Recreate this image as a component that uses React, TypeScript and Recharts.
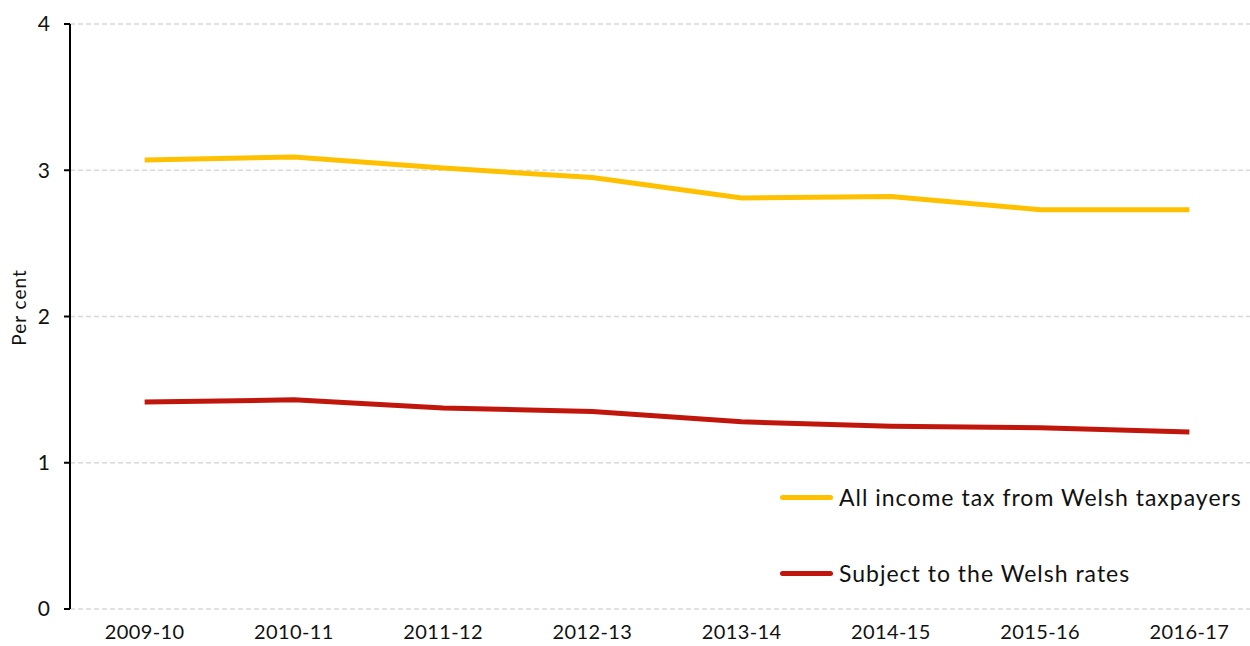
import { LineChart, Line, XAxis, YAxis, CartesianGrid, Legend } from "recharts"

const YEARS = ["2009-10", "2010-11", "2011-12", "2012-13", "2013-14", "2014-15", "2015-16", "2016-17"]
const ALL_INCOME_TAX = [3.07, 3.09, 3.015, 2.95, 2.81, 2.82, 2.73, 2.73]
const WELSH_RATES = [1.415, 1.43, 1.375, 1.35, 1.28, 1.25, 1.24, 1.21]
const Y_TICKS = [0, 1, 2, 3, 4]
const BOUNDARY_TICKS = [-0.5, 0.5, 1.5, 2.5, 3.5, 4.5, 5.5, 6.5, 7.5]
const CENTER_TICKS = [0, 1, 2, 3, 4, 5, 6, 7]

const SERIES = [
  { key: "all", name: "All income tax from Welsh taxpayers", color: "#FFC000" },
  { key: "welsh", name: "Subject to the Welsh rates", color: "#C0160C" },
]

const data = YEARS.map((year, i) => ({
  i,
  year,
  all: ALL_INCOME_TAX[i],
  welsh: WELSH_RATES[i],
}))

const FONT = "Lato, 'Open Sans', sans-serif"

function LegendBox() {
  return (
    <div style={{ fontFamily: FONT, fontSize: 23, letterSpacing: 1, color: "#111" }}>
      {SERIES.map((s) => (
        <div key={s.key} style={{ display: "flex", alignItems: "center", height: 30, marginBottom: 46 }}>
          <span
            style={{
              display: "inline-block",
              width: 53,
              height: 5,
              borderRadius: 3,
              background: s.color,
              marginRight: 6,
            }}
          />
          <span>{s.name}</span>
        </div>
      ))}
    </div>
  )
}

export default function App() {
  return (
    <div style={{ position: "absolute", left: 0, top: 0, width: 1250, height: 646, overflow: "hidden", background: "#fff" }}>
      <LineChart width={1264} height={646} data={data} margin={{ top: 24, right: 0, left: 0, bottom: 0 }}>
        <CartesianGrid vertical={false} stroke="#d9d9d9" strokeDasharray="5 3" strokeWidth={1.5} />
        <XAxis
          xAxisId="marks"
          type="number"
          dataKey="i"
          domain={[-0.5, 7.5]}
          ticks={BOUNDARY_TICKS}
          tick={false}
          tickSize={6}
          height={0}
          stroke="#000"
          strokeWidth={2}
        />
        <XAxis
          xAxisId="labels"
          type="number"
          dataKey="i"
          domain={[-0.5, 7.5]}
          ticks={CENTER_TICKS}
          tickFormatter={(v: number) => YEARS[v]}
          tickLine={false}
          axisLine={false}
          tickSize={0}
          tickMargin={16}
          height={37}
          interval={0}
          tick={{ fontSize: 20, fill: "#111", fontFamily: FONT, letterSpacing: 0.4 }}
        />
        <YAxis
          domain={[0, 4]}
          ticks={Y_TICKS}
          width={70}
          tickSize={6}
          tickMargin={14}
          stroke="#000"
          strokeWidth={2}
          tick={{ fontSize: 21, fill: "#111", fontFamily: FONT }}
          label={{
            content: ({ viewBox }: any) => {
              // label sits a little above the axis midpoint in the source
              const cx = viewBox.x + 18
              const cy = viewBox.y + viewBox.height / 2 - 9
              return (
                <text
                  x={cx}
                  y={cy}
                  transform={`rotate(-90 ${cx} ${cy})`}
                  textAnchor="middle"
                  dominantBaseline="central"
                  fontSize={19}
                  letterSpacing={1}
                  fontFamily={FONT}
                  fill="#111"
                >
                  Per cent
                </text>
              )
            },
          }}
        />
        <Legend
          layout="horizontal"
          verticalAlign="middle"
          content={() => <LegendBox />}
          wrapperStyle={{ position: "absolute", left: 780, top: 482, width: 470 }}
        />
        {SERIES.map((s) => (
          <Line
            key={s.key}
            xAxisId="labels"
            type="linear"
            dataKey={s.key}
            name={s.name}
            stroke={s.color}
            strokeWidth={5}
            dot={false}
            isAnimationActive={false}
          />
        ))}
      </LineChart>
    </div>
  )
}
